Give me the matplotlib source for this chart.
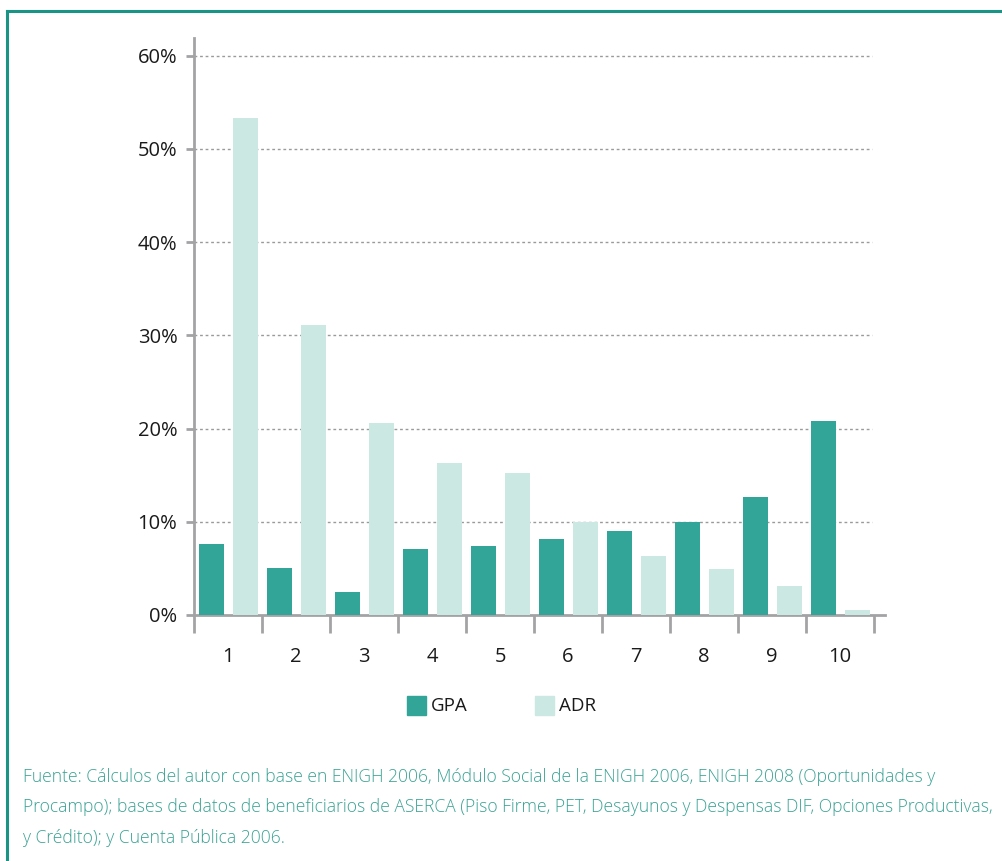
import matplotlib
matplotlib.use("Agg")
import matplotlib.pyplot as plt
from matplotlib.patches import Rectangle
from matplotlib.lines import Line2D
import numpy as np

categories = ["1", "2", "3", "4", "5", "6", "7", "8", "9", "10"]
gpa = [7.6, 5.0, 2.5, 7.1, 7.4, 8.2, 9.0, 10.0, 12.7, 20.8]
adr = [53.3, 31.1, 20.6, 16.3, 15.2, 10.0, 6.3, 4.9, 3.1, 0.5]
yticks = [0, 10, 20, 30, 40, 50, 60]
ytick_labels = ["0%", "10%", "20%", "30%", "40%", "50%", "60%"]
series_names = ["GPA", "ADR"]
source_lines = [
    "Fuente: Cálculos del autor con base en ENIGH 2006, Módulo Social de la ENIGH 2006, ENIGH 2008 (Oportunidades y",
    "Procampo); bases de datos de beneficiarios de ASERCA (Piso Firme, PET, Desayunos y Despensas DIF, Opciones Productivas,",
    "y Crédito); y Cuenta Pública 2006.",
]

c_gpa = "#33a598"
c_adr = "#cce8e3"
c_axis = "#a3a3a6"
c_border = "#1a9484"
c_src = "#3aa394"

plt.rcParams['font.family'] = ['Open Sans', 'DejaVu Sans']

W, H = 1002, 861
fig = plt.figure(figsize=(W / 100, H / 100), dpi=100)

def fx(px):
    return px / W

def fy(py):
    return 1 - py / H

ax_left, ax_right, ax_top, ax_bottom = 194, 885, 38, 615
ax = fig.add_axes([fx(ax_left), fy(ax_bottom), fx(ax_right - ax_left), fy(ax_top) - fy(ax_bottom)])

x = np.arange(1, len(categories) + 1)
bw = 25 / 68
ax.bar(x - 0.243, gpa, width=bw, color=c_gpa, zorder=3)
ax.bar(x + 0.257, adr, width=bw, color=c_adr, zorder=3)

xmax = 0.5 + (ax_right - ax_left) / 68
ax.set_xlim(0.5, xmax)
ymax = (ax_bottom - ax_top) / 93.2 * 10
ax.set_ylim(0, ymax)

for t in yticks[1:]:
    ax.plot([0.5, 10.47], [t, t], color="#9a9a9a", lw=1.0, ls=(0, (2, 2)), zorder=1)

for s in ["top", "right"]:
    ax.spines[s].set_visible(False)
for s in ["left", "bottom"]:
    ax.spines[s].set_color(c_axis)
    ax.spines[s].set_linewidth(2)

ax.set_yticks(yticks)
ax.set_yticklabels(ytick_labels)
ax.tick_params(axis="y", length=6, width=2, color=c_axis, pad=6, labelsize=14.5, labelcolor="#1a1a1a")

ax.set_xticks(x)
ax.set_xticklabels(categories)
ax.set_xticks(np.arange(0.5, 10.6, 1.0), minor=True)
ax.tick_params(axis="x", which="major", length=0, pad=23, labelsize=14.5, labelcolor="#1a1a1a")
ax.tick_params(axis="x", which="minor", length=13, width=2, color=c_axis, direction="out")

# legend (manual)
fig.patches.append(Rectangle((fx(407), fy(715)), fx(19), fy(696) - fy(715), transform=fig.transFigure,
                             color=c_gpa, figure=fig))
fig.text(fx(431), fy(706), series_names[0], fontsize=13.5, va="center", ha="left", color="#1a1a1a")
fig.patches.append(Rectangle((fx(535), fy(715)), fx(19), fy(696) - fy(715), transform=fig.transFigure,
                             color=c_adr, figure=fig))
fig.text(fx(559), fy(706), series_names[1], fontsize=13.5, va="center", ha="left", color="#1a1a1a")

# border
fig.add_artist(Line2D([fx(7), 1.0], [fy(11), fy(11)], transform=fig.transFigure, color=c_border, lw=2.2))
fig.add_artist(Line2D([fx(7), fx(7)], [fy(11), 0.0], transform=fig.transFigure, color=c_border, lw=2.2))

for i, line in enumerate(source_lines):
    fig.text(fx(23), fy(777 + 30.5 * i), line, fontsize=12.62, va="center", ha="left", color=c_src,
             fontweight="light")

fig.savefig("out.png", dpi=100)
